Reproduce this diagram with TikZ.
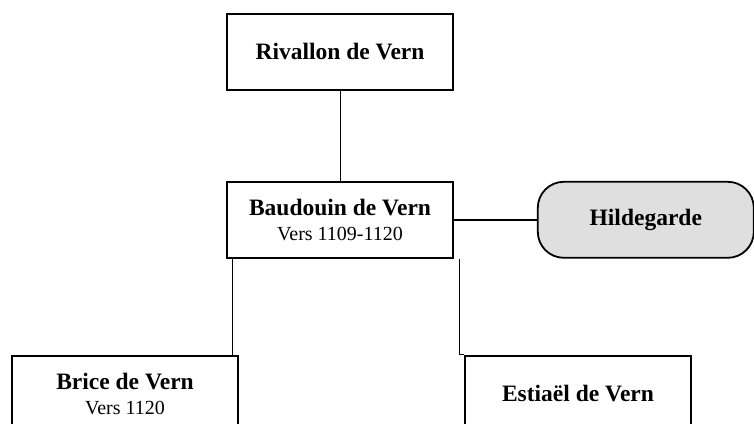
\documentclass[tikz,border=0pt]{standalone}
\usepackage{fontspec}
\setmainfont{Liberation Serif}
\usetikzlibrary{positioning}

\newcommand{\yrs}[1]{{\normalfont\fontsize{20}{25}\selectfont #1}}

\begin{document}
\begin{tikzpicture}[
  x=1pt, y=1pt,
  node distance=90pt and 83pt,
  person/.style={draw, line width=1.8pt, minimum width=226pt,
                 minimum height=76pt, align=center, inner sep=0pt,
                 font=\fontsize{23.5}{25}\selectfont\bfseries},
  spouse/.style={person, fill=gray!25, rounded corners=26pt,
                 minimum width=216pt},
  kid/.style={line width=0.9pt},
  wed/.style={line width=2pt}
]
\useasboundingbox (0,0) rectangle (754,-423);
\node[person] (rivallon) at (340,-52) {Rivallon de Vern};
\node[person, below=of rivallon] (baudouin) {Baudouin de Vern\\ \yrs{Vers 1109-1120}};
\node[spouse, right=of baudouin] (hildegarde) {Hildegarde};
\node[person, below=96pt of baudouin, xshift=-215pt] (brice) {Brice de Vern\\ \yrs{Vers 1120}};
\node[person, below=96pt of baudouin, xshift=238pt] (estiael) {Estiaël de Vern};
\draw[kid] (rivallon) -- (baudouin);
\draw[wed] (baudouin) -- (hildegarde);
\draw[kid] ([xshift=6pt]baudouin.south west) -- ([xshift=6pt]baudouin.south west |- brice.north);
\draw[kid] ([xshift=6pt]baudouin.south east) |- (estiael.north west);
\end{tikzpicture}
\end{document}
